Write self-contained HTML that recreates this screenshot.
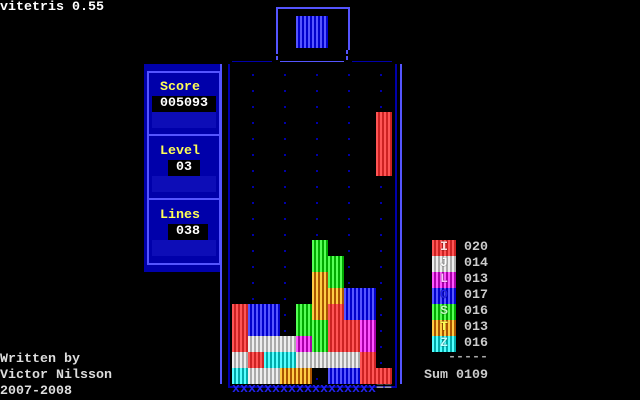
<!DOCTYPE html>
<html><head><style>
body{margin:0;width:640px;height:400px;background:#000;position:relative;overflow:hidden;font-family:"Liberation Mono",monospace;font-size:13.33px;font-weight:bold;}
div{position:absolute;}
.t{line-height:16px;height:16px;white-space:pre;}
.c{width:16px;height:16px;}
.R{background:repeating-linear-gradient(90deg,#ff5555 0 2px,#cc2222 2px 4px);}
.W{background:repeating-linear-gradient(90deg,#eeeeee 0 2px,#aaaaaa 2px 4px);}
.C{background:repeating-linear-gradient(90deg,#55ffff 0 2px,#00aaaa 2px 4px);}
.O{background:repeating-linear-gradient(90deg,#ffcc44 0 2px,#aa5500 2px 4px);}
.B{background:repeating-linear-gradient(90deg,#5555ff 0 2px,#0000cc 2px 4px);}
.G{background:repeating-linear-gradient(90deg,#55ff55 0 2px,#00aa00 2px 4px);}
.M{background:repeating-linear-gradient(90deg,#ff55ff 0 2px,#aa00aa 2px 4px);}
.dot{width:2px;height:2px;background:#0000aa;}
</style></head><body>
<div class="t" style="left:0;top:0;color:#fff">vitetris 0.55</div>
<div class="t" style="left:0;top:352px;color:#ddd">Written by</div>
<div class="t" style="left:0;top:368px;color:#ddd">Victor Nilsson</div>
<div class="t" style="left:0;top:384px;color:#ddd">2007-2008</div>

<div style="left:276px;top:7px;width:70px;height:41px;border:2px solid #5555ff;border-bottom:none"></div>
<div style="left:276px;top:50px;width:2px;height:4px;background:#5555ff"></div>
<div style="left:276px;top:56px;width:2px;height:4px;background:#5555ff"></div>
<div style="left:346px;top:50px;width:2px;height:4px;background:#5555ff"></div>
<div style="left:346px;top:56px;width:2px;height:4px;background:#5555ff"></div>
<div class="B" style="left:296px;top:16px;width:32px;height:32px"></div>
<div style="left:232px;top:61px;width:40px;height:1px;background:#0000aa"></div>
<div style="left:280px;top:61px;width:64px;height:1px;background:#5555ff"></div>
<div style="left:352px;top:61px;width:40px;height:1px;background:#0000aa"></div>

<div style="left:144px;top:64px;width:78px;height:208px;background:#0000aa"></div>
<div style="left:147px;top:71px;width:70px;height:190px;border:2px solid #5555ff"></div>
<div style="left:147px;top:134px;width:74px;height:2px;background:#5555ff"></div>
<div style="left:147px;top:198px;width:74px;height:2px;background:#5555ff"></div>
<div style="left:152px;top:112px;width:64px;height:16px;background:radial-gradient(#3333dd 40%,transparent 41%) 0 0/2px 2px"></div>
<div style="left:152px;top:176px;width:64px;height:16px;background:radial-gradient(#3333dd 40%,transparent 41%) 0 0/2px 2px"></div>
<div style="left:152px;top:240px;width:64px;height:16px;background:radial-gradient(#3333dd 40%,transparent 41%) 0 0/2px 2px"></div>
<div class="t" style="left:160px;top:80px;color:#ffff55">Score</div>
<div class="t" style="left:152px;top:96px;width:64px;background:#000;color:#fff;text-align:center">005093</div>
<div class="t" style="left:160px;top:144px;color:#ffff55">Level</div>
<div class="t" style="left:168px;top:160px;width:32px;background:#000;color:#fff;text-align:center">03</div>
<div class="t" style="left:160px;top:208px;color:#ffff55">Lines</div>
<div class="t" style="left:168px;top:224px;width:40px;background:#000;color:#fff;text-align:center">038</div>

<div style="left:220px;top:64px;width:2px;height:320px;background:#5555ff"></div>
<div style="left:228px;top:64px;width:2px;height:322px;background:#0000aa"></div>
<div style="left:395px;top:64px;width:2px;height:322px;background:#0000aa"></div>
<div style="left:400px;top:64px;width:2px;height:320px;background:#5555ff"></div>
<div style="left:228px;top:386px;width:169px;height:2px;background:#0000aa"></div>
<div class="t" style="left:232px;top:382px;color:#2222ee">xxxxxxxxxxxxxxxxxx</div>
<div class="t" style="left:376px;top:380px;color:#aaaaaa">==</div>

<div id="dots"></div>
<script>
var h='';
for(var r=0;r<20;r++)for(var c=0;c<5;c++)h+='<div class="dot" style="left:'+(252+32*c)+'px;top:'+(74+16*r)+'px"></div>';
var rows={11:"     G    ",12:"     GG   ",13:"     OG   ",14:"     OOBB ",15:"RBB GORBB ",16:"RBB GGRRM ",17:"RWWWMGRRM ",18:"WRCCWWWWR ",19:"CWWOO BBRR"};
for(var r in rows){var s=rows[r];for(var c=0;c<10;c++)if(s[c]!=' ')h+='<div class="c '+s[c]+'" style="left:'+(232+16*c)+'px;top:'+(64+16*r)+'px"></div>';}
for(var r=3;r<7;r++)h+='<div class="c R" style="left:376px;top:'+(64+16*r)+'px"></div>';
var st=[["R","I","020","#ffdddd"],["W","J","014","#ffffff"],["M","L","013","#ffbbff"],["B","O","017","#2222ee"],["G","S","016","#bbffbb"],["O","T","013","#ffff55"],["C","Z","016","#bbffff"]];
for(var i=0;i<7;i++){
h+='<div class="'+st[i][0]+'" style="left:432px;top:'+(240+16*i)+'px;width:24px;height:16px"></div>';
h+='<div class="t" style="left:440px;top:'+(240+16*i)+'px;color:'+st[i][3]+';text-shadow:0 0 1px #000">'+st[i][1]+'</div>';
h+='<div class="t" style="left:464px;top:'+(240+16*i)+'px;color:#ccc">'+st[i][2]+'</div>';}
document.getElementById('dots').innerHTML=h;
</script>
<div class="t" style="left:448px;top:350px;color:#aaa">-----</div>
<div class="t" style="left:424px;top:368px;color:#ccc">Sum 0109</div>
</body></html>
